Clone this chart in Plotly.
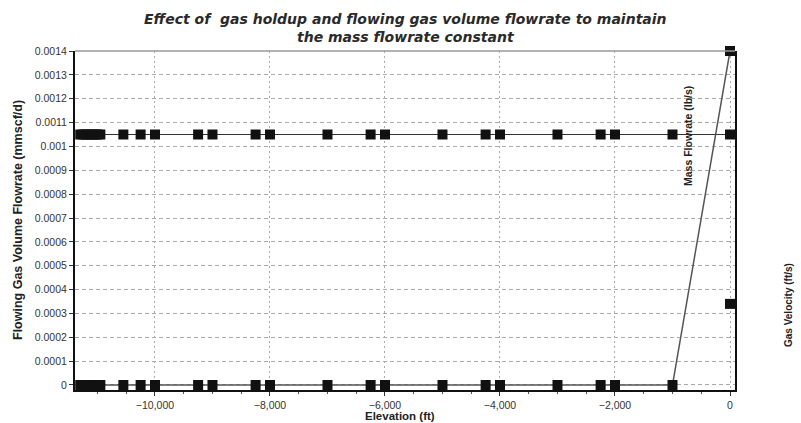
import plotly.graph_objects as go

# Elevation points (ft)
elevation = [-11300, -11250, -11200, -11150, -11100, -11050, -11000, -10950,
             -10550, -10250, -10000, -9250, -9000, -8250, -8000, -7000, -6250, -6000,
             -5000, -4250, -4000, -3000, -2250, -2000, -1000, 0]
# Flowing gas volume flowrate (mmscf/d) - constant
gas_flowrate = [0.00105] * len(elevation)
# Lower series - zero until surface
lower_series = [0.0] * (len(elevation) - 1) + [0.0014]
# Extra point at surface
extra_x = [0]
extra_y = [0.00034]

y_tickvals = [0, 0.0001, 0.0002, 0.0003, 0.0004, 0.0005, 0.0006, 0.0007, 0.0008,
              0.0009, 0.001, 0.0011, 0.0012, 0.0013, 0.0014]
y_ticktext = ["0", "0.0001", "0.0002", "0.0003", "0.0004", "0.0005", "0.0006", "0.0007",
              "0.0008", "0.0009", "0.001", "0.0011", "0.0012", "0.0013", "0.0014"]
x_tickvals = [-10000, -8000, -6000, -4000, -2000, 0]

marker = dict(symbol="square", size=10, color="#111111")

fig = go.Figure()
fig.add_trace(go.Scatter(x=elevation, y=gas_flowrate, mode="lines+markers",
                         line=dict(color="#333333", width=1), marker=marker,
                         cliponaxis=False, showlegend=False))
fig.add_trace(go.Scatter(x=elevation, y=lower_series, mode="lines+markers",
                         line=dict(color="#555555", width=1.5), marker=marker,
                         cliponaxis=False, showlegend=False))
fig.add_trace(go.Scatter(x=extra_x, y=extra_y, mode="markers", marker=marker,
                         cliponaxis=False, showlegend=False))

def px(xp):
    return (xp - 75) / 660

def py(yp):
    return (390 - yp) / 339

fig.update_layout(
    width=801, height=423,
    margin=dict(l=75, r=66, t=51, b=33),
    paper_bgcolor="white", plot_bgcolor="white",
    font=dict(family="Liberation Sans, Arial", size=10, color="#333333"),
    annotations=[
        dict(text="<b><i>Effect of  gas holdup and flowing gas volume flowrate to maintain<br>the mass flowrate constant</i></b>",
             x=px(405), y=py(28), xref="paper", yref="paper", showarrow=False,
             font=dict(family="DejaVu Sans", size=14, color="#2a2a2a"), xanchor="center", yanchor="middle"),
        dict(text="<b>Flowing Gas Volume Flowrate (mmscf/d)</b>", xref="paper", yref="paper",
             x=px(18), y=py(220), showarrow=False, textangle=-90,
             font=dict(size=12.5, color="#222222"), xanchor="center", yanchor="middle"),
        dict(text="<b>Elevation (ft)</b>", xref="paper", yref="paper",
             x=px(400), y=py(416), showarrow=False,
             font=dict(size=11.5, color="#222222"), xanchor="center", yanchor="middle"),
        dict(text="<b>Mass Flowrate (lb/s)</b>", xref="paper", yref="paper",
             x=px(688), y=py(136), showarrow=False, textangle=-90,
             font=dict(size=10.5, color="#222222"), xanchor="center", yanchor="middle"),
        dict(text="<b>Gas Velocity (ft/s)</b>", xref="paper", yref="paper",
             x=px(788), y=py(305), showarrow=False, textangle=-90,
             font=dict(size=10, color="#222222"), xanchor="center", yanchor="middle"),
    ],
    shapes=[dict(type="line", xref="paper", yref="paper", x0=0, x1=1, y0=1, y1=1,
                 line=dict(color="#999999", width=1.5))],
)

fig.update_xaxes(range=[-11391, 87], tickvals=x_tickvals, tickformat=",",
                 showgrid=True, gridcolor="#aaaaaa", griddash="2px,3px", gridwidth=1,
                 showline=True, linecolor="#111111", linewidth=2,
                 ticks="outside", ticklen=4, tickcolor="#333333",
                 minor=dict(dtick=500, ticks="outside", ticklen=2, tickcolor="#555555", showgrid=False),
                 zeroline=False, tickfont=dict(size=10.5, color="#333333"))
fig.update_yaxes(range=[-0.000021, 0.0014], tickvals=y_tickvals, ticktext=y_ticktext,
                 showgrid=True, gridcolor="#aaaaaa", griddash="4px,3px", gridwidth=1,
                 showline=True, linecolor="#111111", linewidth=2, mirror=True,
                 ticks="outside", ticklen=4, tickcolor="#333333",
                 zeroline=False, tickfont=dict(size=10.5, color="#333333"))

fig.write_html("out.html")
